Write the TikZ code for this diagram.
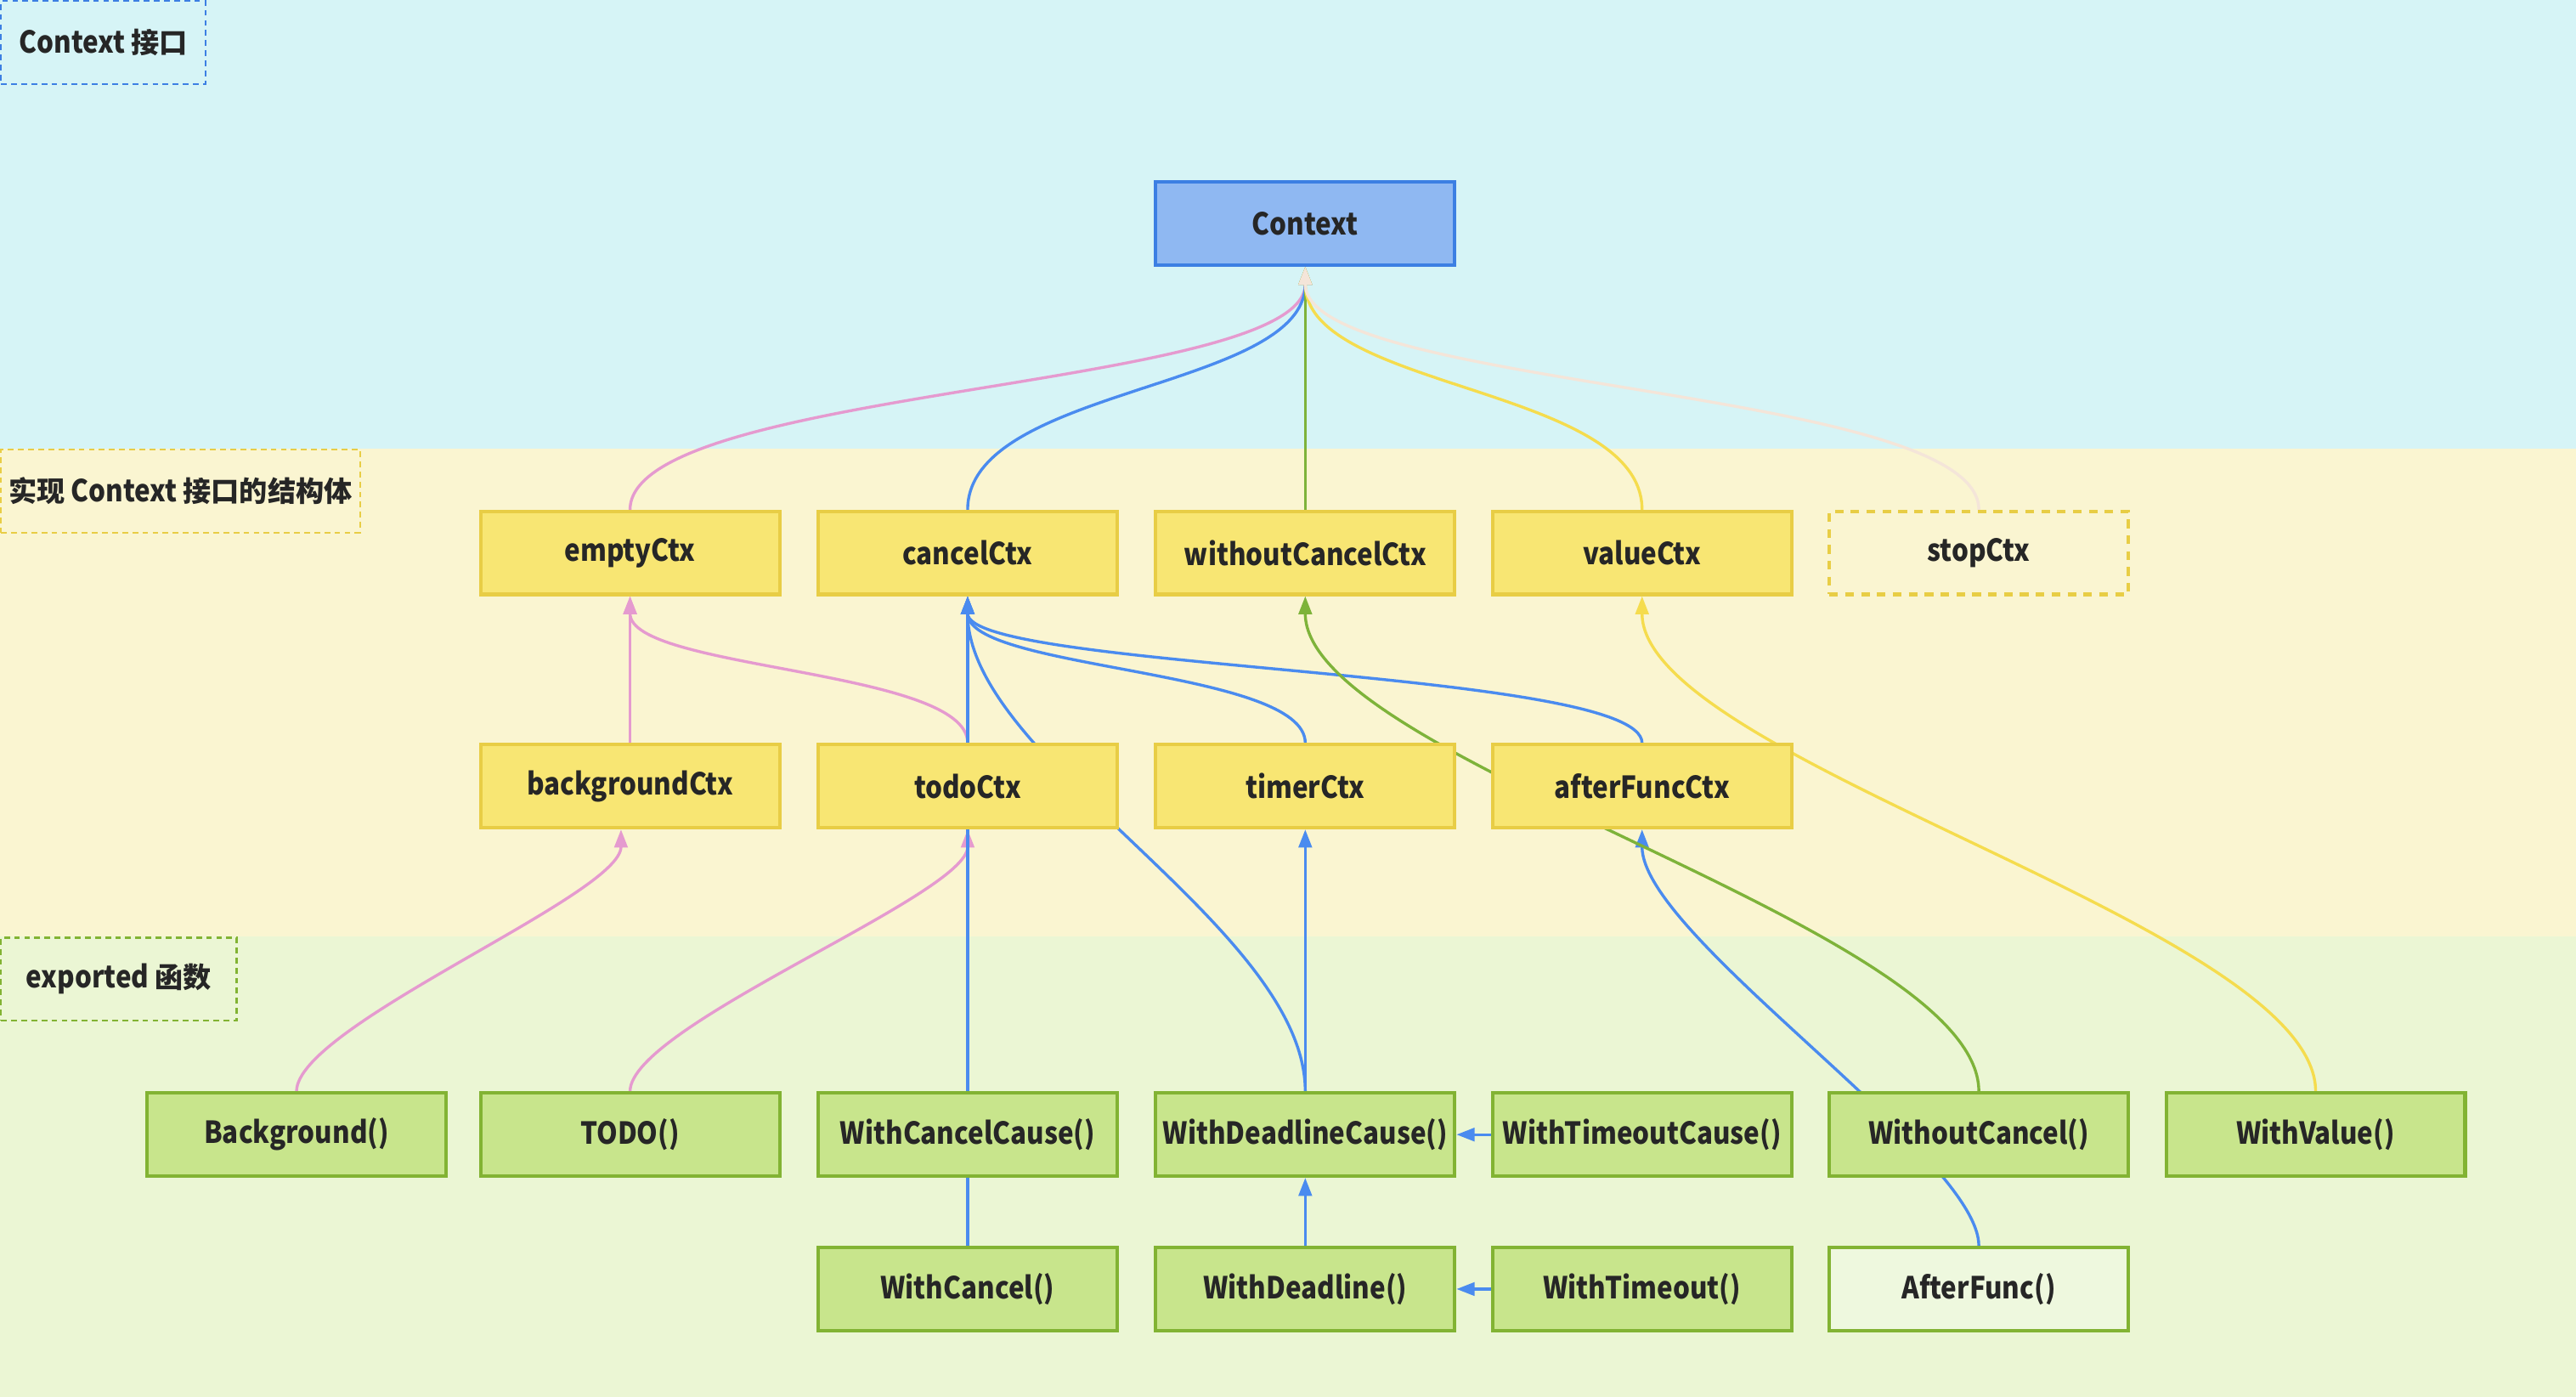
\documentclass[tikz,border=0pt]{standalone}
\usepackage{fontspec}
\setmainfont{Noto Sans CJK SC}[FakeStretch=0.88]
\newfontfamily\cjk{Noto Sans CJK SC}[Scale=0.93]
\usetikzlibrary{arrows.meta}

\definecolor{bandTop}{HTML}{D6F4F6}
\definecolor{bandMid}{HTML}{FAF5D1}
\definecolor{bandBot}{HTML}{EBF6D4}
\definecolor{ctxFill}{HTML}{8FB8F2}
\definecolor{ctxLine}{HTML}{3C7FE3}
\definecolor{yelFill}{HTML}{F8E673}
\definecolor{yelLine}{HTML}{E8CD45}
\definecolor{grnFill}{HTML}{C8E58C}
\definecolor{grnLine}{HTML}{82B333}
\definecolor{afFill}{HTML}{EEF8DE}
\definecolor{edgePink}{HTML}{E59ACF}
\definecolor{edgeBlue}{HTML}{4A8BEF}
\definecolor{edgeGreen}{HTML}{7EB33A}
\definecolor{edgeYel}{HTML}{F5DC4E}
\definecolor{edgePeach}{HTML}{F4E5D9}
\definecolor{txt}{HTML}{262626}

\pgfdeclarelayer{bands}
\pgfdeclarelayer{edges}
\pgfsetlayers{bands,edges,main}

\tikzset{
  box/.style={rectangle, minimum width=3.64cm, minimum height=1.01cm, line width=1.2pt,
    font=\fontsize{10.5}{12}\selectfont\bfseries, text=txt, inner sep=0pt},
  ifc/.style={box, fill=ctxFill, draw=ctxLine},
  impl/.style={box, fill=yelFill, draw=yelLine},
  func/.style={box, fill=grnFill, draw=grnLine},
  lbl/.style={rectangle, anchor=north west, line width=0.7pt, dash pattern=on 2pt off 1.5pt,
    minimum height=1.01cm, font=\fontsize{10.5}{12}\selectfont\bfseries, text=txt, inner sep=0pt},
  link/.style={line width=1pt, -{Triangle[length=0.22cm,width=0.16cm]}},
}

\begin{document}
\begin{tikzpicture}
  \useasboundingbox (0,0) rectangle (31.36,17);
  \begin{pgfonlayer}{bands}
    \fill[bandTop] (0,11.54) rectangle (31.36,17);% interface band
    \fill[bandMid] (0,5.6) rectangle (31.36,11.54);% struct band
    \fill[bandBot] (0,0) rectangle (31.36,5.6);% func band
  \end{pgfonlayer}

  % band labels
  \node[lbl, draw=ctxLine, minimum width=2.49cm] (lblIfc) at (0,17) {Context {\cjk 接口}};
  \node[lbl, draw=yelLine, minimum width=4.37cm] (lblImpl) at (0,11.54) {{\cjk 实现} Context {\cjk 接口的结构体}};
  \node[lbl, draw=grnLine, minimum width=2.87cm] (lblFunc) at (0,5.6) {exported {\cjk 函数}};

  \def\rowA{14.28}
  \def\rowB{10.27}
  \def\rowC{7.43}
  \def\rowD{3.19}
  \def\rowE{1.31}

  \node[ifc] (ctx) at (15.89,\rowA) {Context};

  \node[impl] (empty) at (7.67,\rowB) {emptyCtx};
  \node[impl] (cancel) at (11.78,\rowB) {cancelCtx};
  \node[impl] (woc) at (15.89,\rowB) {withoutCancelCtx};
  \node[impl] (value) at (19.99,\rowB) {valueCtx};
  \node[box, draw=yelLine, dash pattern=on 3pt off 2.5pt] (stop) at (24.09,\rowB) {stopCtx};

  \node[impl] (bg) at (7.67,\rowC) {backgroundCtx};
  \node[impl] (todo) at (11.78,\rowC) {todoCtx};
  \node[impl] (timer) at (15.89,\rowC) {timerCtx};
  \node[impl] (afunc) at (19.99,\rowC) {afterFuncCtx};

  \node[func] (fBg) at (3.61,\rowD) {Background()};
  \node[func] (fTodo) at (7.67,\rowD) {TODO()};
  \node[func] (fWCC) at (11.78,\rowD) {WithCancelCause()};
  \node[func] (fWDC) at (15.89,\rowD) {WithDeadlineCause()};
  \node[func] (fWTC) at (19.99,\rowD) {WithTimeoutCause()};
  \node[func] (fWoC) at (24.09,\rowD) {WithoutCancel()};
  \node[func] (fWV) at (28.19,\rowD) {WithValue()};

  \node[func] (fWC) at (11.78,\rowE) {WithCancel()};
  \node[func] (fWD) at (15.89,\rowE) {WithDeadline()};
  \node[func] (fWT) at (19.99,\rowE) {WithTimeout()};
  \node[func, fill=afFill] (fAF) at (24.09,\rowE) {AfterFunc()};

  \begin{pgfonlayer}{edges}
    % structs up to the interface
    \draw[link, edgePink] (empty.north) .. controls +(0,1.5) and +(0,-1.5) .. (ctx.south);
    \draw[link, edgeBlue] (cancel.north) .. controls +(0,1.5) and +(0,-1.5) .. (ctx.south);
    \draw[link, edgeGreen] (woc.north) -- (ctx.south);
    \draw[link, edgeYel] (value.north) .. controls +(0,1.5) and +(0,-1.5) .. (ctx.south);
    \draw[link, edgePeach] (stop.north) .. controls +(0,1.5) and +(0,-1.5) .. (ctx.south);

    % struct to struct
    \draw[link, edgePink] (bg.north) -- (empty.south);
    \draw[link, edgePink] (todo.north) .. controls +(0,0.9) and +(0,-0.9) .. (empty.south);
    \draw[link, edgeBlue] (timer.north) .. controls +(0,0.9) and +(0,-0.9) .. (cancel.south);
    \draw[link, edgeBlue] (afunc.north) .. controls +(0,0.9) and +(0,-0.9) .. (cancel.south);

    % funcs up to structs
    \draw[link, edgePink] (fBg.north) .. controls +(0,0.8) and +(0,-0.8) .. ([xshift=-0.11cm]bg.south);
    \draw[link, edgePink] (fTodo.north) .. controls +(0,0.8) and +(0,-0.8) .. (todo.south);
    \draw[link, edgeBlue] (fWCC.north) -- (cancel.south);% runs under todoCtx
    \draw[link, edgeBlue] (fWDC.north) .. controls +(0,2) and +(0,-2) .. (cancel.south);
    \draw[link, edgeBlue] (fWDC.north) -- (timer.south);
    \draw[link, edgeBlue] (fAF.north) .. controls +(0,1.1) and +(0,-1.3) .. (afunc.south);
    \draw[link, edgeGreen] (fWoC.north) .. controls +(0,2) and +(0,-2) .. (woc.south);
    \draw[link, edgeYel] (fWV.north) .. controls +(0,2) and +(0,-2) .. (value.south);

    % funcs to funcs
    \draw[edgeBlue, line width=1pt] (fWC.north) -- (fWCC.south);
    \draw[link, edgeBlue] (fWD.north) -- (fWDC.south);
    \draw[link, edgeBlue] (fWTC.west) -- (fWDC.east);
    \draw[link, edgeBlue] (fWT.west) -- (fWD.east);
  \end{pgfonlayer}
\end{tikzpicture}
\end{document}
